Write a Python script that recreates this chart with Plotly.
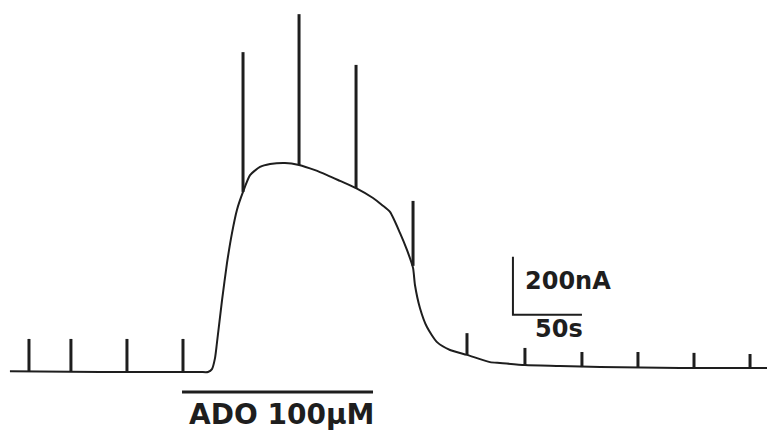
import plotly.graph_objects as go

# Continuous current trace (time in s, current in nA)
trace_t = [7.2, 72.5, 144.9, 150.7, 153.6, 155.8, 157.2, 160.9, 164.5, 168.1, 171.7,
           176.1, 181.2, 188.4, 195.7, 206.5, 216.7, 228.3, 237.0, 246.4, 258.0, 270.3,
           276.8, 282.6, 289.9, 294.9, 299.3, 300.7, 304.3, 309.4, 316.7, 326.1, 338.4,
           355.1, 362.3, 380.4, 405.8, 434.8, 492.8, 555.8]
trace_i = [3, 0, 0, 0, 10, 48, 100, 248, 376, 479, 559,
           621, 679, 707, 717, 721, 714, 696, 679, 659, 634, 600,
           576, 552, 479, 421, 359, 300, 221, 155, 103, 76, 59,
           34, 31, 24, 21, 17, 14, 14]

# Test-pulse spikes (time, base current, peak current)
spike_t = [21.0, 51.4, 92.0, 132.6, 176.1, 216.7, 258.0, 299.3,
           338.4, 380.4, 421.7, 462.3, 502.9, 543.5]
spike_base = [3, 3, 3, 3, 621, 714, 634, 366, 59, 24, 17, 17, 14, 14]
spike_peak = [114, 114, 114, 114, 1103, 1234, 1059, 590, 134, 83, 69, 69, 66, 62]

# Scale bar and drug application bar
scale_t0, scale_dt = 371.7, 50      # s
scale_i0, scale_di = 197, 200       # nA
drug_start, drug_end, drug_level = 131.9, 270.3, -69
drug_label = "ADO 100μM"

ink = "#1e1e1e"
fig = go.Figure()

fig.add_trace(go.Scatter(x=trace_t, y=trace_i, mode="lines",
                         line=dict(color=ink, width=2, shape="spline", smoothing=0.6),
                         hoverinfo="skip", showlegend=False))

sx, sy = [], []
for t, b, p in zip(spike_t, spike_base, spike_peak):
    sx += [t, t, None]
    sy += [b, p, None]
fig.add_trace(go.Scatter(x=sx, y=sy, mode="lines",
                         line=dict(color=ink, width=3),
                         hoverinfo="skip", showlegend=False))

# scale bar
fig.add_trace(go.Scatter(x=[scale_t0, scale_t0, scale_t0 + scale_dt],
                         y=[scale_i0 + scale_di, scale_i0, scale_i0],
                         mode="lines", line=dict(color=ink, width=2),
                         hoverinfo="skip", showlegend=False))
# drug bar
fig.add_trace(go.Scatter(x=[drug_start, drug_end], y=[drug_level, drug_level],
                         mode="lines", line=dict(color=ink, width=3),
                         hoverinfo="skip", showlegend=False))

font_b = "DejaVu Sans"
fig.add_annotation(x=379, y=314, text="<b>%dnA</b>" % scale_di, showarrow=False,
                   xanchor="left", yanchor="middle",
                   font=dict(family=font_b, size=24, color=ink))
fig.add_annotation(x=386, y=148, text="<b>%ds</b>" % scale_dt, showarrow=False,
                   xanchor="left", yanchor="middle",
                   font=dict(family=font_b, size=24, color=ink))
fig.add_annotation(x=135.5, y=-146, text="<b>%s</b>" % drug_label, showarrow=False,
                   xanchor="left", yanchor="middle",
                   font=dict(family=font_b, size=28, color=ink))

fig.update_layout(width=767, height=430, margin=dict(l=0, r=0, t=0, b=0),
                  paper_bgcolor="white", plot_bgcolor="white",
                  xaxis=dict(range=[0, 555.8], visible=False, fixedrange=True),
                  yaxis=dict(range=[-200, 1282.8], visible=False, fixedrange=True))

fig.write_html("out.html")
